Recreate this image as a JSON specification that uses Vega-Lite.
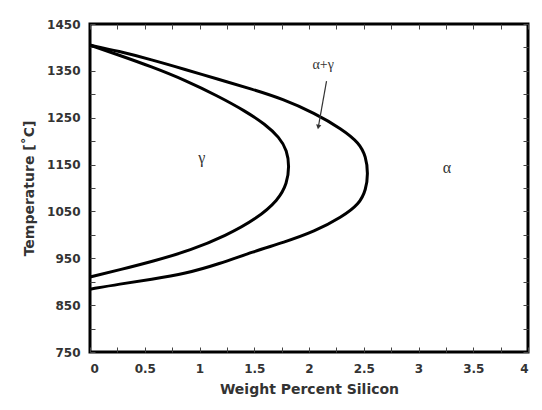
{
  "$schema": "https://vega.github.io/schema/vega-lite/v6.json",
  "width": 438,
  "height": 328,
  "autosize": "none",
  "padding": {"left": 90, "top": 24, "right": 14, "bottom": 58},
  "background": "white",
  "config": {
    "view": {"stroke": "black", "strokeWidth": 3},
    "axis": {"grid": false, "domain": false, "tickColor": "#444", "tickWidth": 1, "tickSize": -5, "labelFont": "DejaVu Sans", "labelFontSize": 12, "labelFontWeight": "bold", "labelColor": "#333", "titleFont": "DejaVu Sans", "titleFontSize": 14, "titleFontWeight": "bold", "titleColor": "#333"}
  },
  "datasets": {
    "curves": [
      {"curve": "inner", "ord": 1, "si": 0, "t": 1405},
      {"curve": "inner", "ord": 2, "si": 0.26, "t": 1384},
      {"curve": "inner", "ord": 3, "si": 0.56, "t": 1359},
      {"curve": "inner", "ord": 4, "si": 0.87, "t": 1330},
      {"curve": "inner", "ord": 5, "si": 1.17, "t": 1296},
      {"curve": "inner", "ord": 6, "si": 1.42, "t": 1264},
      {"curve": "inner", "ord": 7, "si": 1.6, "t": 1236},
      {"curve": "inner", "ord": 8, "si": 1.73, "t": 1208},
      {"curve": "inner", "ord": 9, "si": 1.8, "t": 1180},
      {"curve": "inner", "ord": 10, "si": 1.82, "t": 1146},
      {"curve": "inner", "ord": 11, "si": 1.8, "t": 1110},
      {"curve": "inner", "ord": 12, "si": 1.72, "t": 1074},
      {"curve": "inner", "ord": 13, "si": 1.52, "t": 1034},
      {"curve": "inner", "ord": 14, "si": 1.24, "t": 998},
      {"curve": "inner", "ord": 15, "si": 0.92, "t": 967},
      {"curve": "inner", "ord": 16, "si": 0.58, "t": 944},
      {"curve": "inner", "ord": 17, "si": 0.28, "t": 926},
      {"curve": "inner", "ord": 18, "si": 0, "t": 910},
      {"curve": "outer", "ord": 1, "si": 0, "t": 1405},
      {"curve": "outer", "ord": 2, "si": 0.26, "t": 1392},
      {"curve": "outer", "ord": 3, "si": 0.56, "t": 1374},
      {"curve": "outer", "ord": 4, "si": 0.87, "t": 1353},
      {"curve": "outer", "ord": 5, "si": 1.17, "t": 1332},
      {"curve": "outer", "ord": 6, "si": 1.48, "t": 1311},
      {"curve": "outer", "ord": 7, "si": 1.76, "t": 1290},
      {"curve": "outer", "ord": 8, "si": 2.05, "t": 1260},
      {"curve": "outer", "ord": 9, "si": 2.3, "t": 1226},
      {"curve": "outer", "ord": 10, "si": 2.46, "t": 1196},
      {"curve": "outer", "ord": 11, "si": 2.52, "t": 1167},
      {"curve": "outer", "ord": 12, "si": 2.54, "t": 1131},
      {"curve": "outer", "ord": 13, "si": 2.52, "t": 1096},
      {"curve": "outer", "ord": 14, "si": 2.46, "t": 1066},
      {"curve": "outer", "ord": 15, "si": 2.3, "t": 1038},
      {"curve": "outer", "ord": 16, "si": 2.05, "t": 1007},
      {"curve": "outer", "ord": 17, "si": 1.77, "t": 984},
      {"curve": "outer", "ord": 18, "si": 1.49, "t": 964},
      {"curve": "outer", "ord": 19, "si": 1.18, "t": 938},
      {"curve": "outer", "ord": 20, "si": 0.87, "t": 917},
      {"curve": "outer", "ord": 21, "si": 0.56, "t": 905},
      {"curve": "outer", "ord": 22, "si": 0.27, "t": 895},
      {"curve": "outer", "ord": 23, "si": 0, "t": 884}
    ],
    "labels": [
      {"label": "γ", "si": 1.02, "t": 1163, "size": 16},
      {"label": "α", "si": 3.26, "t": 1142, "size": 16},
      {"label": "α+γ", "si": 2.13, "t": 1362, "size": 14}
    ],
    "arrow": [
      {"si": 2.16, "t": 1328, "si2": 2.085, "t2": 1230}
    ]
  },
  "layer": [
    {
      "data": {"name": "curves"},
      "mark": {"type": "line", "color": "black", "strokeWidth": 3, "interpolate": "basis"},
      "encoding": {
        "x": {"field": "si", "type": "quantitative", "scale": {"domain": [0, 4], "nice": false, "zero": false}, "axis": {"orient": "bottom", "title": "Weight Percent Silicon", "values": [0, 0.25, 0.5, 0.75, 1, 1.25, 1.5, 1.75, 2, 2.25, 2.5, 2.75, 3, 3.25, 3.5, 3.75, 4], "labelExpr": "datum.value % 0.5 == 0 ? '' + datum.value : ''", "labelPadding": 16, "titlePadding": 8}},
        "y": {"field": "t", "type": "quantitative", "scale": {"domain": [750, 1450], "nice": false, "zero": false}, "axis": {"orient": "left", "title": "Temperature [˚C]", "values": [750, 800, 850, 900, 950, 1000, 1050, 1100, 1150, 1200, 1250, 1300, 1350, 1400, 1450], "labelExpr": "datum.value % 100 == 50 ? '' + datum.value : ''", "labelPadding": 15, "titlePadding": 10}},
        "detail": {"field": "curve"},
        "order": {"field": "ord", "type": "quantitative"}
      }
    },
    {
      "data": {"name": "curves"},
      "mark": {"type": "point", "opacity": 0},
      "encoding": {
        "x": {"field": "si", "type": "quantitative", "axis": {"orient": "top", "title": null, "labels": false, "values": [0, 0.25, 0.5, 0.75, 1, 1.25, 1.5, 1.75, 2, 2.25, 2.5, 2.75, 3, 3.25, 3.5, 3.75, 4]}},
        "y": {"field": "t", "type": "quantitative", "axis": {"orient": "right", "title": null, "labels": false, "values": [750, 800, 850, 900, 950, 1000, 1050, 1100, 1150, 1200, 1250, 1300, 1350, 1400, 1450]}}
      }
    },
    {
      "data": {"name": "arrow"},
      "mark": {"type": "rule", "color": "#333", "strokeWidth": 1.2},
      "encoding": {
        "x": {"field": "si", "type": "quantitative", "axis": null},
        "y": {"field": "t", "type": "quantitative", "axis": null},
        "x2": {"field": "si2"},
        "y2": {"field": "t2"}
      }
    },
    {
      "data": {"name": "arrow"},
      "mark": {"type": "point", "shape": "triangle-down", "filled": true, "color": "#333", "size": 28, "angle": 10, "opacity": 1},
      "encoding": {
        "x": {"field": "si2", "type": "quantitative", "axis": null},
        "y": {"field": "t2", "type": "quantitative", "axis": null}
      }
    },
    {
      "data": {"name": "labels"},
      "mark": {"type": "text", "font": "Liberation Serif", "color": "#333", "align": "center", "baseline": "middle"},
      "encoding": {
        "x": {"field": "si", "type": "quantitative", "axis": null},
        "y": {"field": "t", "type": "quantitative", "axis": null},
        "text": {"field": "label"},
        "size": {"field": "size", "type": "quantitative", "scale": null}
      }
    }
  ],
  "resolve": {"axis": {"x": "independent", "y": "independent"}}
}
